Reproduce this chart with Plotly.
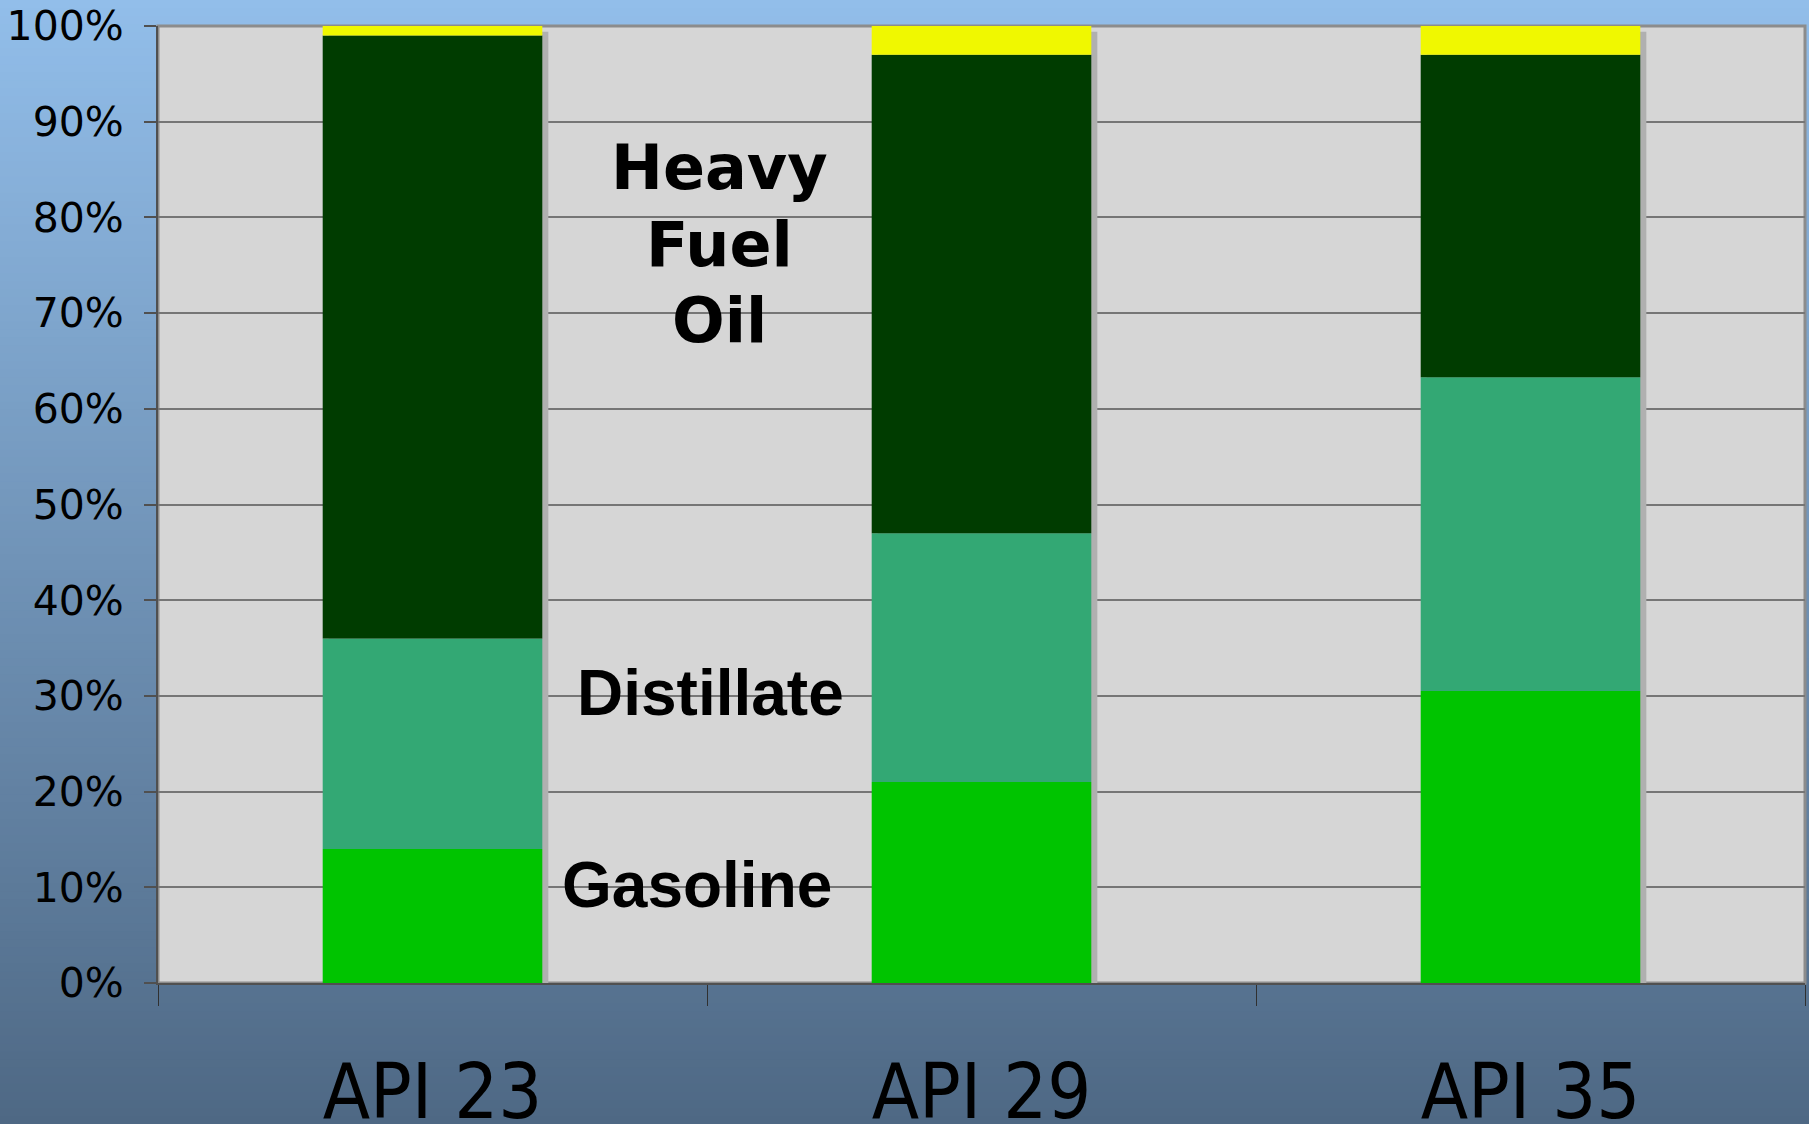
import plotly.graph_objects as go

# ---- data ----
categories = ["API 23", "API 29", "API 35"]
gasoline = [14.0, 21.0, 30.5]
distillate = [22.0, 26.0, 32.8]
heavy_fuel_oil = [63.0, 50.0, 33.7]
other = [1.0, 3.0, 3.0]
y_ticks = [0, 10, 20, 30, 40, 50, 60, 70, 80, 90, 100]
y_tick_labels = ["%d%%" % v for v in y_ticks]
hfo_label_lines = ["Heavy", "Fuel", "Oil"]

series = [
    ("Gasoline", gasoline, "#00C400"),
    ("Distillate", distillate, "#33A874"),
    ("Heavy Fuel Oil", heavy_fuel_oil, "#003C00"),
    ("Other", other, "#F0F800"),
]

# ---- geometry / style ----
W, H = 1809, 1124
ML, MR, MT, MB = 158, 4, 26, 141
BAR_W = 0.4
SHADOW_DX = 0.011
SHADOW_DROP = 0.6

fig = go.Figure()

# shadow behind bars (derived from stacked totals)
totals = [sum(v) for v in zip(*[s[1] for s in series])]
fig.add_trace(go.Bar(
    x=categories, y=totals, base=[-SHADOW_DROP] * len(totals),
    width=BAR_W, offset=-BAR_W / 2 + SHADOW_DX,
    marker=dict(color="#B0B0B0", line=dict(width=0)),
    hoverinfo="skip", showlegend=False,
))

cum = [0.0] * len(categories)
for name, vals, color in series:
    fig.add_trace(go.Bar(
        x=categories, y=vals, base=list(cum), name=name,
        width=BAR_W, offset=-BAR_W / 2,
        marker=dict(color=color, line=dict(width=0)),
        showlegend=False,
    ))
    cum = [c + v for c, v in zip(cum, vals)]

# background gradient (decorative)
ph = H - MT - MB
pw = W - ML - MR
top_c = (146, 190, 234)
bot_c = (78, 104, 132)
N = 140
shapes = []
for i in range(N):
    t0 = i / N
    t1 = (i + 1) / N
    tm = (i + 0.5) / N
    c = tuple(round(top_c[k] + (bot_c[k] - top_c[k]) * tm) for k in range(3))
    y_top_px = t0 * H
    y_bot_px = t1 * H + 1
    shapes.append(dict(
        type="rect", xref="paper", yref="paper", layer="below",
        x0=-ML / pw - 0.01, x1=1 + MR / pw + 0.01,
        y0=(H - MB - y_bot_px) / ph, y1=(H - MB - y_top_px) / ph,
        fillcolor="rgb(%d,%d,%d)" % c, line=dict(width=0),
    ))
# plot-area panel
shapes.append(dict(
    type="rect", xref="paper", yref="paper", layer="below",
    x0=0, x1=1, y0=0, y1=1, fillcolor="#D6D6D6",
    line=dict(color="#8C8C8C", width=3),
))

annotations = []
hfo_y = [85.2, 77.2, 69.2]
for word, yy in zip(hfo_label_lines, hfo_y):
    annotations.append(dict(x=0.522, y=yy, text="<b>%s</b>" % word,
                            font=dict(family="DejaVu Sans", size=62, color="black")))
annotations += [
    dict(x=0.507, y=30.3, text="<b>Distillate</b>",
         font=dict(family="Liberation Sans", size=64, color="black")),
    dict(x=0.482, y=10.2, text="<b>Gasoline</b>",
         font=dict(family="Liberation Sans", size=64, color="black")),
]
for a in annotations:
    a.update(xref="x", yref="y", showarrow=False, xanchor="center", yanchor="middle")

fig.update_layout(
    width=W, height=H,
    margin=dict(l=ML, r=MR, t=MT, b=MB, pad=0),
    barmode="overlay",
    paper_bgcolor="rgb(78,104,132)",
    plot_bgcolor="rgba(0,0,0,0)",
    shapes=shapes,
    annotations=annotations,
    showlegend=False,
    xaxis=dict(
        type="category", categoryorder="array", categoryarray=categories,
        range=[-0.5, 2.5], automargin=False,
        showgrid=False, zeroline=False,
        showline=True, linecolor="#505050", linewidth=2,
        ticks="outside", tickson="boundaries", ticklen=21, tickwidth=1,
        tickcolor="#303030", ticklabelstandoff=41,
        tickfont=dict(family="DejaVu Sans Condensed, Liberation Sans Narrow, DejaVu Sans",
                      size=77, color="black"),
    ),
    yaxis=dict(
        range=[0, 100], automargin=False,
        tickmode="array", tickvals=y_ticks, ticktext=y_tick_labels,
        showgrid=True, gridcolor="#767676", gridwidth=1.5,
        zeroline=False,
        showline=True, linecolor="#505050", linewidth=2,
        ticks="outside", ticklen=12, tickwidth=1.5, tickcolor="#505050",
        ticklabelstandoff=12,
        tickfont=dict(family="DejaVu Sans", size=41, color="black"),
    ),
)

fig.write_html(
    "out.html",
    config={"displayModeBar": False},
    post_script="document.body.style.margin='0';document.body.style.overflow='hidden';",
)
